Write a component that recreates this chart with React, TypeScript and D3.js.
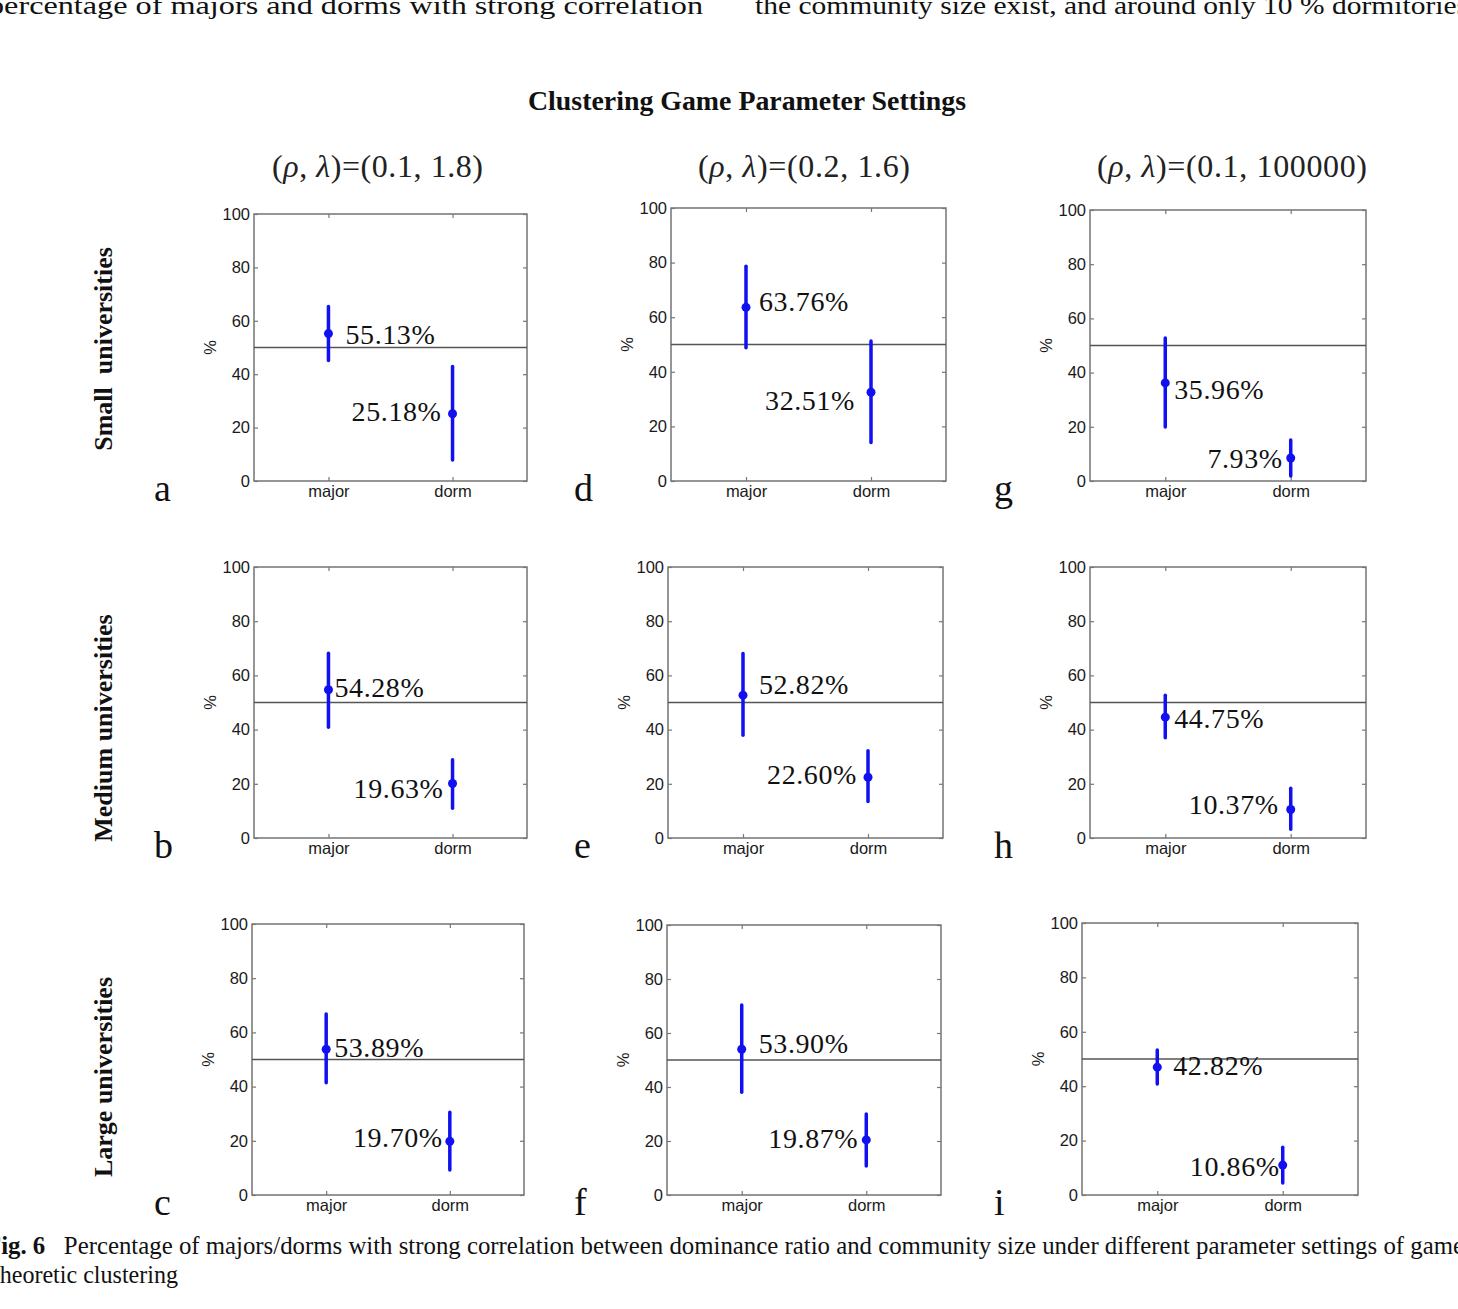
import * as d3 from "d3";
import { useEffect, useRef } from "react";

// categories and ticks
const groups = ["major", "dorm"];
const yTicks = [0, 20, 40, 60, 80, 100];
const threshold = 50;

// panels in reading order (row by row): a d g / b e h / c f i
const panelLetters = ["a", "d", "g", "b", "e", "h", "c", "f", "i"];
const rhoValues = ["0.1", "0.2", "0.1"];
const lambdaValues = ["1.8", "1.6", "100000"];
const rowLabels = ["Small  universities", "Medium universities", "Large universities"];

// values (%)
const majorMean = [55.2, 63.6, 36.2, 54.7, 52.7, 44.6, 53.8, 54.0, 47.0];
const majorLow = [45.1, 48.8, 19.9, 40.9, 37.9, 37.0, 41.4, 38.1, 40.8];
const majorHigh = [65.4, 78.7, 52.8, 68.2, 68.1, 52.7, 66.8, 70.4, 53.3];
const dormMean = [25.2, 32.5, 8.5, 20.1, 22.4, 10.5, 19.8, 20.4, 11.0];
const dormLow = [7.9, 14.1, 1.8, 11.0, 13.5, 3.2, 9.2, 10.7, 4.4];
const dormHigh = [42.9, 51.3, 15.1, 28.9, 32.2, 18.4, 30.5, 30.0, 17.6];
const majorLabels = ["55.13%", "63.76%", "35.96%", "54.28%", "52.82%", "44.75%", "53.89%", "53.90%", "42.82%"];
const dormLabels = ["25.18%", "32.51%", "7.93%", "19.63%", "22.60%", "10.37%", "19.70%", "19.87%", "10.86%"];

// layout: axes boxes [left, top, right, bottom]
const boxes = [
  [254, 214, 527, 481],
  [671, 208, 946, 481],
  [1090, 210, 1366, 481],
  [254, 567, 527, 838],
  [668, 567, 943, 838],
  [1090, 567, 1366, 838],
  [252, 924, 524, 1195],
  [667, 925, 941, 1195],
  [1082, 923, 1358, 1195],
];
// label offsets from the dot [dx, dy]
const majorOffsets = [[17, 10], [13, 4], [9, 16], [6, 7], [16, -1], [9, 11], [8, 8], [17, 4], [16, 8]];
const dormOffsets = [[-11, 7], [-16, 18], [-8, 10], [-9, 14], [-11, 7], [-12, 4], [-7, 6], [-8, 8], [-3, 11]];

const serif = "'Liberation Serif', 'Times New Roman', serif";
const sans = "'Liberation Sans', Arial, sans-serif";
const blue = "#1010f0";

export default function App() {
  const ref = useRef<SVGSVGElement>(null);

  useEffect(() => {
    const svg = d3.select(ref.current);
    svg.selectAll("*").remove();

    // page text around the figure (cut at the edges, as in the scan)
    svg.append("text")
      .attr("x", -12).attr("y", 14)
      .attr("font-family", serif).attr("font-size", 26).attr("fill", "#111")
      .attr("textLength", 715).attr("lengthAdjust", "spacingAndGlyphs")
      .text("percentage of majors and dorms with strong correlation");
    svg.append("text")
      .attr("x", 755).attr("y", 14)
      .attr("font-family", serif).attr("font-size", 26).attr("fill", "#111")
      .attr("textLength", 713).attr("lengthAdjust", "spacingAndGlyphs")
      .text("the community size exist, and around only 10 % dormitories");

    // figure title
    svg.append("text")
      .attr("x", 528).attr("y", 110)
      .attr("font-family", serif).attr("font-size", 27).attr("font-weight", "bold")
      .attr("fill", "#111")
      .attr("textLength", 438).attr("lengthAdjust", "spacingAndGlyphs")
      .text("Clustering Game Parameter Settings");

    // column titles
    const colSpans = [[272, 211], [698, 212], [1097, 270]];
    colSpans.forEach(([x0, w], i) => {
      const t = svg.append("text")
        .attr("x", x0).attr("y", 177)
        .attr("font-family", serif).attr("font-size", 32).attr("fill", "#222")
        .attr("textLength", w).attr("lengthAdjust", "spacing");
      t.append("tspan").text("(");
      t.append("tspan").attr("font-style", "italic").text("ρ");
      t.append("tspan").text(", ");
      t.append("tspan").attr("font-style", "italic").text("λ");
      t.append("tspan").text(`)=(${rhoValues[i]}, ${lambdaValues[i]})`);
    });

    // row labels
    const rowCenters = [349, 728, 1077];
    rowLabels.forEach((lab, i) => {
      svg.append("text")
        .attr("transform", `translate(112,${rowCenters[i]}) rotate(-90)`)
        .attr("text-anchor", "middle")
        .attr("font-family", serif).attr("font-size", 26).attr("font-weight", "bold")
        .attr("fill", "#111")
        .style("white-space", "pre")
        .text(lab);
    });

    panelLetters.forEach((letter, i) => {
      const [left, top, right, bottom] = boxes[i];
      const x = d3.scalePoint().domain(groups).range([left, right]).padding(0.6);
      const y = d3.scaleLinear().domain([0, 100]).range([bottom, top]);
      const g = svg.append("g");

      // panel letter
      const col = i % 3;
      svg.append("text")
        .attr("x", [154, 574, 994][col])
        .attr("y", bottom + 20)
        .attr("font-family", serif).attr("font-size", 38).attr("fill", "#111")
        .text(letter);

      // box
      g.append("rect")
        .attr("x", left).attr("y", top)
        .attr("width", right - left).attr("height", bottom - top)
        .attr("fill", "#fff").attr("stroke", "#6a6a6a").attr("stroke-width", 1.4);

      const styleAxis = (sel: any, showText: boolean) => {
        sel.select(".domain").remove();
        sel.selectAll(".tick line").attr("stroke", "#777").attr("stroke-width", 1.2);
        sel.selectAll(".tick text")
          .attr("font-family", sans).attr("font-size", 16.5).attr("fill", "#1a1a1a")
          .style("display", showText ? null : "none");
      };

      g.append("g")
        .attr("transform", `translate(${left},0)`)
        .call(d3.axisLeft(y).tickValues(yTicks).tickSize(-4).tickPadding(4))
        .call((s) => styleAxis(s, true));
      g.append("g")
        .attr("transform", `translate(${right},0)`)
        .call(d3.axisRight(y).tickValues(yTicks).tickSize(-4))
        .call((s) => styleAxis(s, false));
      g.append("g")
        .attr("transform", `translate(0,${bottom})`)
        .call(d3.axisBottom(x).tickSize(-4).tickPadding(4))
        .call((s) => styleAxis(s, true));
      g.append("g")
        .attr("transform", `translate(0,${top})`)
        .call(d3.axisTop(x).tickSize(-4))
        .call((s) => styleAxis(s, false));

      // y label
      g.append("text")
        .attr("transform", `translate(${left - 38},${(top + bottom) / 2}) rotate(-90)`)
        .attr("text-anchor", "middle")
        .attr("font-family", sans).attr("font-size", 16.5).attr("fill", "#1a1a1a")
        .text("%");

      // 50% reference line
      g.append("line")
        .attr("x1", left).attr("x2", right)
        .attr("y1", y(threshold)).attr("y2", y(threshold))
        .attr("stroke", "#555").attr("stroke-width", 1.4);

      const pts = [
        { key: "major", mean: majorMean[i], low: majorLow[i], high: majorHigh[i], label: majorLabels[i], off: majorOffsets[i], anchor: "start" },
        { key: "dorm", mean: dormMean[i], low: dormLow[i], high: dormHigh[i], label: dormLabels[i], off: dormOffsets[i], anchor: "end" },
      ];

      g.selectAll(".bar").data(pts).enter().append("line")
        .attr("x1", (d) => x(d.key)!).attr("x2", (d) => x(d.key)!)
        .attr("y1", (d) => y(d.low)).attr("y2", (d) => y(d.high))
        .attr("stroke", blue).attr("stroke-width", 3.5).attr("stroke-linecap", "round");

      g.selectAll(".dot").data(pts).enter().append("circle")
        .attr("cx", (d) => x(d.key)!).attr("cy", (d) => y(d.mean))
        .attr("r", 4.5).attr("fill", blue);

      g.selectAll(".lab").data(pts).enter().append("text")
        .attr("x", (d) => x(d.key)! + d.off[0])
        .attr("y", (d) => y(d.mean) + d.off[1])
        .attr("text-anchor", (d) => d.anchor)
        .attr("font-family", serif).attr("font-size", 28).attr("fill", "#111")
        .attr("letter-spacing", 0.6)
        .text((d) => d.label);
    });

    // caption
    const cap = svg.append("text")
      .attr("x", -14).attr("y", 1254)
      .attr("font-family", serif).attr("font-size", 25).attr("fill", "#111")
      .style("white-space", "pre")
      .attr("textLength", 1478).attr("lengthAdjust", "spacingAndGlyphs");
    cap.append("tspan").attr("font-weight", "bold").text("Fig. 6");
    cap.append("tspan").text("   Percentage of majors/dorms with strong correlation between dominance ratio and community size under different parameter settings of game");
    svg.append("text")
      .attr("x", -7).attr("y", 1283)
      .attr("font-family", serif).attr("font-size", 25).attr("fill", "#111")
      .attr("textLength", 185).attr("lengthAdjust", "spacingAndGlyphs")
      .text("theoretic clustering");
  }, []);

  return (
    <svg
      ref={ref}
      width={1458}
      height={1309}
      style={{ position: "absolute", left: 0, top: 0, background: "#fff" }}
    />
  );
}
